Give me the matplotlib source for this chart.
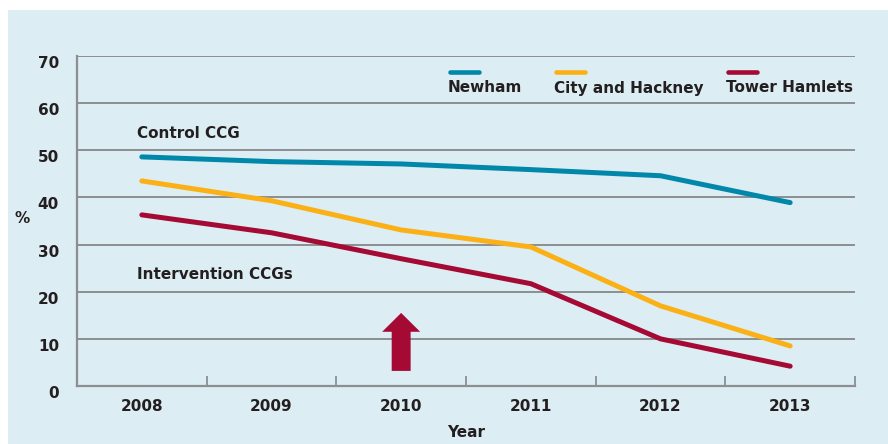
import matplotlib.pyplot as plt
import matplotlib.transforms as mtransforms
from matplotlib.patches import Rectangle, FancyArrow

# Data
years = ['2008', '2009', '2010', '2011', '2012', '2013']
newham = [48.6, 47.6, 47.1, 45.9, 44.6, 38.9]
city_hackney = [43.5, 39.3, 33.1, 29.5, 17.0, 8.5]
tower_hamlets = [36.3, 32.5, 27.0, 21.7, 10.0, 4.2]

c_newham = '#0087aa'
c_city = '#fbb116'
c_tower = '#a50a35'
c_text = '#231f20'
c_grid = '#8c8f91'
bg = '#dcedf3'

plt.rcParams['font.family'] = ['DejaVu Sans']
plt.rcParams['font.weight'] = 'bold'

fig = plt.figure(figsize=(8.88, 4.44), dpi=100)
fig.patches.append(Rectangle((8 / 888, 0), 1, 1 - 10 / 444, transform=fig.transFigure,
                             facecolor=bg, edgecolor='none', zorder=-10))

ax = fig.add_axes([77 / 888, 1 - 386 / 444, 778 / 888, 330 / 444])
ax.set_facecolor('none')
x = list(range(len(years)))

ax.set_xlim(-0.5, len(years) - 0.5)
ax.set_ylim(0, 70)

for yv in range(10, 80, 10):
    ax.axhline(yv, color=c_grid, lw=1.4, zorder=1)

for s in ['top', 'right']:
    ax.spines[s].set_visible(False)
for s in ['left', 'bottom']:
    ax.spines[s].set_color(c_grid)
    ax.spines[s].set_linewidth(1.6)

ax.set_yticks(range(0, 80, 10))
ax.tick_params(axis='y', length=0, pad=13, labelsize=11, labelcolor=c_text)
ax.set_xticks(x)
ax.set_xticklabels(years)
ax.tick_params(axis='x', which='major', length=0, pad=9, labelsize=11, labelcolor=c_text)
ax.set_xticks([i - 0.5 for i in range(len(years) + 1)], minor=True)
ax.tick_params(axis='x', which='minor', direction='in', length=7, width=1.3, color=c_grid)
shift = mtransforms.ScaledTranslation(0, -6 / 100, fig.dpi_scale_trans)
for lab in ax.get_yticklabels():
    lab.set_transform(lab.get_transform() + shift)
for lab in ax.get_xticklabels() + ax.get_yticklabels():
    lab.set_fontweight('bold')

ax.plot(x, newham, color=c_newham, lw=3.6, solid_capstyle='round', solid_joinstyle='round', zorder=3)
ax.plot(x, city_hackney, color=c_city, lw=3.6, solid_capstyle='round', solid_joinstyle='round', zorder=3)
ax.plot(x, tower_hamlets, color=c_tower, lw=3.6, solid_capstyle='round', solid_joinstyle='round', zorder=3)

# arrow marking intervention year
ax.add_patch(FancyArrow(2, 3.2, 0, 12.3, width=0.146, head_width=0.293, head_length=4.0,
                        length_includes_head=True, color=c_tower, lw=0, zorder=4))

ax.text(-0.04, 53.5, 'Control CCG', fontsize=11, fontweight='bold', color=c_text, va='center')
ax.text(-0.04, 23.6, 'Intervention CCGs', fontsize=11, fontweight='bold', color=c_text, va='center')

ax.set_ylabel('%', rotation=0, fontsize=11, fontweight='bold', color=c_text)
ax.yaxis.set_label_coords(-0.07, (386 - 226) / 330)
ax.set_xlabel('Year', fontsize=11, fontweight='bold', color=c_text, labelpad=8)

# legend: short line above each label
legend = [('Newham', c_newham, 450), ('City and Hackney', c_city, 556), ('Tower Hamlets', c_tower, 728)]
for name, col, px in legend:
    x0 = (px - 77) / 778
    ax.plot([x0, x0 + 29 / 778], [(386 - 72) / 330] * 2, transform=ax.transAxes,
            color=col, lw=3.3, solid_capstyle='round', clip_on=False, zorder=5)
    ax.text(x0 - 2 / 778, (386 - 88) / 330, name, transform=ax.transAxes, fontsize=11,
            fontweight='bold', color=c_text, va='center', ha='left')

fig.savefig('out.png', dpi=100)
